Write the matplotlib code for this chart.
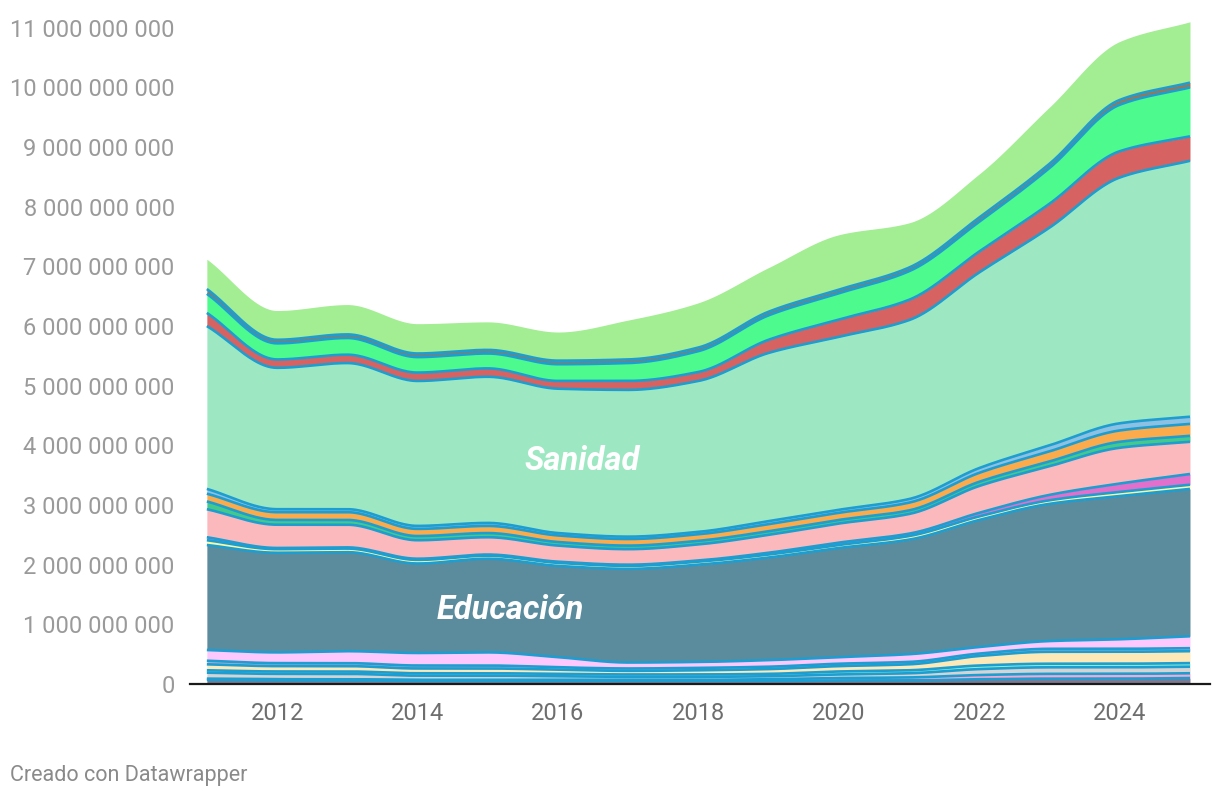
import numpy as np
import matplotlib
matplotlib.use("Agg")
import matplotlib.pyplot as plt
from matplotlib.ticker import FuncFormatter

years = list(range(2011, 2026))

# valores en miles de millones, de abajo hacia arriba
capa_gris_oscuro = [0.07, 0.06, 0.06, 0.05, 0.05, 0.05, 0.05, 0.05, 0.05, 0.06, 0.06, 0.08, 0.09, 0.09, 0.10]
capa_rosa = [0.02, 0.02, 0.02, 0.02, 0.02, 0.02, 0.02, 0.02, 0.03, 0.04, 0.05, 0.07, 0.08, 0.08, 0.08]
capa_gris = [0.10, 0.09, 0.09, 0.07, 0.07, 0.06, 0.05, 0.05, 0.05, 0.06, 0.07, 0.10, 0.11, 0.11, 0.11]
capa_aguamarina = [0.04, 0.04, 0.04, 0.04, 0.04, 0.04, 0.04, 0.04, 0.04, 0.05, 0.05, 0.06, 0.06, 0.06, 0.06]
capa_crema = [0.10, 0.09, 0.09, 0.08, 0.08, 0.07, 0.06, 0.07, 0.08, 0.09, 0.10, 0.16, 0.20, 0.20, 0.20]
capa_lavanda = [0.06, 0.05, 0.05, 0.05, 0.05, 0.04, 0.04, 0.04, 0.04, 0.04, 0.04, 0.04, 0.05, 0.05, 0.05]
capa_violeta = [0.18, 0.18, 0.20, 0.21, 0.22, 0.17, 0.10, 0.10, 0.11, 0.11, 0.13, 0.11, 0.13, 0.16, 0.20]
educacion = [1.76, 1.67, 1.66, 1.50, 1.57, 1.53, 1.57, 1.63, 1.72, 1.83, 1.92, 2.13, 2.30, 2.40, 2.47]
capa_amarilla = [0.08, 0.06, 0.06, 0.06, 0.05, 0.05, 0.05, 0.05, 0.05, 0.05, 0.06, 0.06, 0.06, 0.07, 0.07]
capa_magenta = [0.05, 0.02, 0.02, 0.02, 0.02, 0.02, 0.02, 0.02, 0.03, 0.04, 0.04, 0.06, 0.09, 0.14, 0.18]
capa_rosa_claro = [0.47, 0.39, 0.38, 0.31, 0.29, 0.27, 0.26, 0.27, 0.30, 0.32, 0.33, 0.45, 0.48, 0.60, 0.54]
capa_verde = [0.13, 0.08, 0.08, 0.07, 0.07, 0.06, 0.06, 0.06, 0.06, 0.06, 0.06, 0.07, 0.08, 0.10, 0.10]
capa_naranja = [0.13, 0.13, 0.13, 0.12, 0.12, 0.11, 0.11, 0.11, 0.12, 0.12, 0.13, 0.15, 0.17, 0.19, 0.20]
capa_azul_claro = [0.08, 0.05, 0.05, 0.05, 0.05, 0.04, 0.04, 0.04, 0.05, 0.05, 0.06, 0.08, 0.10, 0.12, 0.12]
sanidad = [2.73, 2.37, 2.45, 2.43, 2.45, 2.42, 2.46, 2.53, 2.82, 2.90, 3.00, 3.28, 3.65, 4.12, 4.29]
capa_roja = [0.22, 0.14, 0.14, 0.14, 0.14, 0.13, 0.15, 0.15, 0.22, 0.29, 0.34, 0.35, 0.40, 0.44, 0.41]
capa_verde_vivo = [0.32, 0.27, 0.28, 0.26, 0.25, 0.28, 0.30, 0.35, 0.41, 0.44, 0.48, 0.50, 0.60, 0.78, 0.82]
capa_marron = [0.08, 0.06, 0.06, 0.06, 0.06, 0.06, 0.06, 0.06, 0.06, 0.06, 0.06, 0.07, 0.07, 0.08, 0.08]
capa_verde_claro = [0.50, 0.49, 0.50, 0.50, 0.47, 0.48, 0.66, 0.75, 0.74, 0.92, 0.75, 0.73, 0.95, 0.98, 1.02]

layers = [
    (capa_gris_oscuro, "#7d7992"),
    (capa_rosa, "#f7a8d0"),
    (capa_gris, "#d4d4d4"),
    (capa_aguamarina, "#8ef5d2"),
    (capa_crema, "#fde9b8"),
    (capa_lavanda, "#b9b0d8"),
    (capa_violeta, "#fdc8fd"),
    (educacion, "#5a8c9e"),
    (capa_amarilla, "#fdf8a0"),
    (capa_magenta, "#e070cc"),
    (capa_rosa_claro, "#fcb9bd"),
    (capa_verde, "#45c98b"),
    (capa_naranja, "#fbab4b"),
    (capa_azul_claro, "#8dc1e3"),
    (sanidad, "#9de8c3"),
    (capa_roja, "#d66262"),
    (capa_verde_vivo, "#4cfa8d"),
    (capa_marron, "#a1744e"),
    (capa_verde_claro, "#a3ed93"),
]


def monotone(x, y, xs):
    # interpolacion cubica monotona (Fritsch-Carlson)
    x = np.asarray(x, float)
    y = np.asarray(y, float)
    h = np.diff(x)
    d = np.diff(y) / h
    m = np.zeros_like(y)
    m[0] = d[0]
    m[-1] = d[-1]
    for i in range(1, len(y) - 1):
        if d[i - 1] * d[i] <= 0:
            m[i] = 0
        else:
            m[i] = (h[i - 1] + h[i]) * 3 / ((2 * h[i] + h[i - 1]) / d[i - 1] + (h[i] + 2 * h[i - 1]) / d[i])
    idx = np.clip(np.searchsorted(x, xs) - 1, 0, len(x) - 2)
    t = (xs - x[idx]) / h[idx]
    h00 = 2 * t**3 - 3 * t**2 + 1
    h10 = t**3 - 2 * t**2 + t
    h01 = -2 * t**3 + 3 * t**2
    h11 = t**3 - t**2
    return h00 * y[idx] + h10 * h[idx] * m[idx] + h01 * y[idx + 1] + h11 * h[idx] * m[idx + 1]


fig = plt.figure(figsize=(12.2, 8), dpi=100)
ax = fig.add_axes([190 / 1220, 116 / 800, 1020 / 1220, 664 / 800])

xs = np.linspace(years[0], years[-1], 600)
cum = np.zeros(len(years))
bottom = np.zeros_like(xs)
tops = []
for values, color in layers:
    cum = cum + np.array(values) * 1e9
    top = monotone(years, cum, xs)
    ax.fill_between(xs, bottom, top, color=color, lw=0)
    tops.append(top)
    bottom = top

for top in tops[:-1]:
    ax.plot(xs, top, color="#1e9dd0", lw=1.9, solid_capstyle="butt")

ax.text(2015.32, 1.24e9, "Educación", color="white", fontsize=23.5, fontweight="bold",
        fontstyle="italic", family="Roboto", ha="center", va="center")
ax.text(2016.34, 3.74e9, "Sanidad", color="white", fontsize=23.5, fontweight="bold",
        fontstyle="italic", family="Roboto", ha="center", va="center")

ax.set_xlim(2010.76, 2025.285)
ax.set_ylim(0, 11.13e9)
ax.set_xticks(range(2012, 2025, 2))
ax.set_yticks(np.arange(0, 12e9, 1e9))
ax.yaxis.set_major_formatter(FuncFormatter(lambda v, p: f"{int(round(v)):,}".replace(",", " ")))

for s in ["top", "right", "left"]:
    ax.spines[s].set_visible(False)
ax.spines["bottom"].set_color("#1a1a1a")
ax.spines["bottom"].set_linewidth(1.6)
ax.tick_params(axis="y", length=0, pad=11, labelsize=17, labelcolor="#9a9a9a")
ax.tick_params(axis="x", length=0, pad=13, labelsize=17, labelcolor="#6e6e6e")
for lab in ax.get_xticklabels() + ax.get_yticklabels():
    lab.set_family("Roboto")

fig.text(10 / 1220, 1 - 776 / 800, "Creado con Datawrapper", fontsize=15.5, color="#8a8a8a",
         family="Roboto", va="center", ha="left")

fig.savefig("out.png", dpi=100)
